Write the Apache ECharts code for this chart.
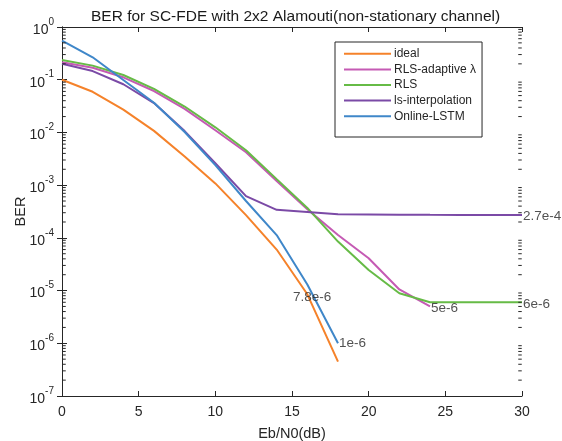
<!DOCTYPE html>
<html>
<head>
<meta charset="utf-8">
<script src="https://cdn.jsdelivr.net/npm/echarts@6/dist/echarts.min.js"></script>
<style>
  html, body { margin: 0; padding: 0; background: #fff; }
  #chart { width: 562px; height: 441px; }
</style>
</head>
<body>
<div id="chart"></div>
<script>
// Eb/N0 points (dB)
var ebn0 = [0, 2, 4, 6, 8, 10, 12, 14, 16, 18, 20, 22, 24, 26, 28, 30];

// BER curves
var ideal = [0.1, 0.059, 0.027, 0.0107, 0.0035, 0.00108, 0.00027, 0.00006, 0.0000085, 0.00000045];
var rlsAdaptive = [0.214, 0.169, 0.111, 0.061, 0.028, 0.011, 0.0042, 0.0012, 0.00035, 0.000113, 0.000041, 0.0000105, 0.000005];
var rls = [0.237, 0.185, 0.123, 0.067, 0.031, 0.0125, 0.0046, 0.0013, 0.00037, 0.000085, 0.0000245, 0.0000089, 0.000006, 0.000006, 0.000006, 0.000006];
var lsInterp = [0.2, 0.146, 0.082, 0.036, 0.0106, 0.0026, 0.00062, 0.00034, 0.00031, 0.00028, 0.000278, 0.000275, 0.000273, 0.000272, 0.000271, 0.00027];
var onlineLstm = [0.55, 0.266, 0.099, 0.0366, 0.0102, 0.0024, 0.0005, 0.000113, 0.000013, 0.000001];

var seriesNames = ['ideal', 'RLS-adaptive \u03bb', 'RLS', 'ls-interpolation', 'Online-LSTM'];
var seriesData = [ideal, rlsAdaptive, rls, lsInterp, onlineLstm];
var colors = ['#f5822a', '#c55ab4', '#66bb46', '#7b4aa6', '#3f87c9'];

// text notes on the plot: [x, y, label]
var notes = [
  [15, 7.4e-6, '7.8e-6'],
  [18, 1e-6, '1e-6'],
  [24, 4.6e-6, '5e-6'],
  [30, 5.6e-6, '6e-6'],
  [30, 2.6e-4, '2.7e-4']
];

// minor ticks of the log axis (2..9 x 10^k), once for the left edge, once for the right
var minorLeft = [];
var minorRight = [];
for (var k = -7; k < 0; k++) {
  for (var m = 2; m <= 9; m++) {
    minorLeft.push([0, m * Math.pow(10, k)]);
    minorRight.push([30, m * Math.pow(10, k)]);
  }
}

var font = 'Liberation Sans, Arial, Helvetica, sans-serif';
var ink = '#262626';

function pair(xs, ys) {
  var out = [];
  for (var i = 0; i < ys.length; i++) out.push([xs[i], ys[i]]);
  return out;
}

function expLabel(v) {
  var e = Math.round(Math.log10(v));
  return '{b|10}{s|' + e + '}';
}

// tiny horizontal dashes sitting on the left / right frame
function minorSeries(data, dir) {
  return {
    type: 'scatter',
    data: data,
    silent: true,
    clip: false,
    symbol: 'rect',
    symbolSize: [3.5, 1],
    symbolOffset: [dir * 2, 0],
    itemStyle: { color: ink, opacity: 1 },
    zlevel: 1,
    z: 50
  };
}

var myChart = echarts.init(document.getElementById('chart'));

var series = seriesData.map(function (d, i) {
  return {
    name: seriesNames[i],
    type: 'line',
    data: pair(ebn0, d),
    symbol: 'none',
    lineStyle: { width: 2, color: colors[i] },
    itemStyle: { color: colors[i] },
    z: 3 + i
  };
});

series.push({
  name: 'notes',
  type: 'scatter',
  data: notes,
  symbolSize: 0,
  silent: true,
  z: 10,
  label: {
    show: true,
    position: 'right',
    distance: 1,
    color: ink,
    fontFamily: font,
    fontSize: 13.5,
    formatter: function (p) { return p.value[2]; }
  }
});

series.push(minorSeries(minorRight, -1));
series.push(minorSeries(minorLeft, 1));

myChart.setOption({
  animation: false,
  backgroundColor: '#fff',
  title: {
    text: 'BER for SC-FDE with 2x2 Alamouti(non-stationary channel)',
    left: 86,
    top: 4,
    textStyle: { fontFamily: font, fontSize: 15.5, fontWeight: 'normal', color: '#1a1a1a' }
  },
  legend: {
    data: seriesNames,
    orient: 'vertical',
    left: 335,
    top: 42,
    padding: [4, 6, 13, 9],
    icon: 'rect',
    itemWidth: 47,
    itemHeight: 2,
    itemGap: 0,
    backgroundColor: '#fff',
    borderColor: '#262626',
    borderWidth: 1,
    borderRadius: 0,
    textStyle: { fontFamily: font, fontSize: 12, color: ink, lineHeight: 15.6, padding: [0, 0, 0, -2] }
  },
  grid: { left: 62, right: 40, top: 27, bottom: 45, containLabel: false, outerBoundsMode: 'none' },
  xAxis: [{
    type: 'value',
    min: 0,
    max: 30,
    interval: 5,
    name: 'Eb/N0(dB)',
    nameLocation: 'middle',
    nameGap: 30,
    nameMoveOverlap: false,
    nameTextStyle: { fontFamily: font, fontSize: 14.5, color: ink },
    axisLine: { lineStyle: { color: ink, width: 1 } },
    axisTick: { inside: true, length: 5, lineStyle: { color: ink } },
    axisLabel: { fontFamily: font, fontSize: 14, color: ink, margin: 9 },
    splitLine: { show: false }
  }, {
    type: 'value',
    position: 'top',
    min: 0,
    max: 30,
    interval: 5,
    axisLine: { lineStyle: { color: ink, width: 1 } },
    axisTick: { inside: true, length: 5, lineStyle: { color: ink } },
    axisLabel: { show: false },
    splitLine: { show: false }
  }],
  yAxis: [{
    type: 'log',
    logBase: 10,
    min: 1e-7,
    max: 1,
    name: 'BER',
    nameLocation: 'middle',
    nameGap: 34,
    nameMoveOverlap: false,
    nameTextStyle: { fontFamily: font, fontSize: 14.5, color: ink },
    axisLine: { show: true, lineStyle: { color: ink, width: 1 } },
    axisTick: { show: true, inside: true, length: 5, lineStyle: { color: ink } },
    axisLabel: {
      margin: 8,
      formatter: expLabel,
      rich: {
        b: { fontFamily: font, fontSize: 14, color: ink, lineHeight: 20, verticalAlign: 'bottom' },
        s: { fontFamily: font, fontSize: 10, color: ink, lineHeight: 20, verticalAlign: 'top' }
      }
    },
    splitLine: { show: false }
  }, {
    type: 'log',
    logBase: 10,
    min: 1e-7,
    max: 1,
    position: 'right',
    axisLine: { show: true, lineStyle: { color: ink, width: 1 } },
    axisTick: { show: true, inside: true, length: 5, lineStyle: { color: ink } },
    axisLabel: { show: false },
    splitLine: { show: false }
  }],
  series: series
});
</script>
</body>
</html>
